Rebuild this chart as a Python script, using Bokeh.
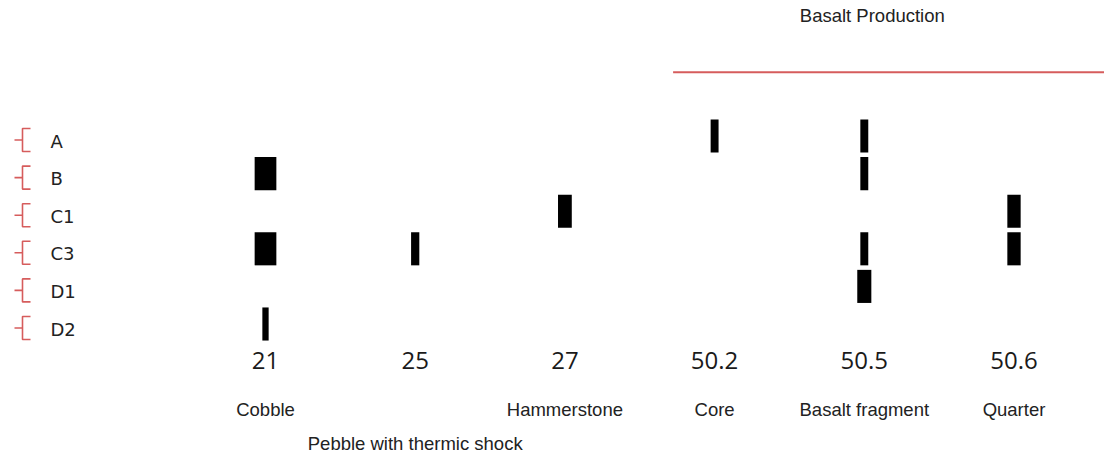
from bokeh.plotting import figure
from bokeh.models import ColumnDataSource, Range1d
from bokeh.core.properties import value
from bokeh.embed import file_html
from bokeh.resources import INLINE

# ---------------- data ----------------
rows = ["A", "B", "C1", "C3", "D1", "D2"]
codes = ["21", "25", "27", "50.2", "50.5", "50.6"]
names = ["Cobble", "Pebble with thermic shock", "Hammerstone", "Core",
         "Basalt fragment", "Quarter"]
group_label = "Basalt Production"
group_codes = ["50.2", "50.5", "50.6"]

bar_rows = ["A", "A", "B", "B", "C1", "C1", "C3", "C3", "C3", "C3", "D1", "D2"]
bar_codes = ["50.2", "50.5", "21", "50.5", "27", "50.6", "21", "25", "50.5", "50.6", "50.5", "21"]
bar_values = [5.3, 5.3, 14.5, 5.3, 9.2, 8.9, 14.5, 5.5, 5.3, 8.9, 9.4, 4.2]

# ---------------- layout ----------------
W, H = 1104, 458
COL_PX = 149.7          # pixels per column
ROW_PX = 37.6           # pixels per row
COL0_PX = 265           # first column centre (px)
ROW0_PX = 135.5         # first row centre (px)

def dx(px):
    return px / COL_PX

def dy(px):
    return px / ROW_PX

x_range = Range1d(-dx(COL0_PX), dx(W - COL0_PX))
y_range = Range1d(dy(H - ROW0_PX), -dy(ROW0_PX))   # rows run downwards
LEFT = x_range.start

p = figure(width=W, height=H, x_range=x_range, y_range=y_range,
           output_backend="svg", toolbar_location=None,
           x_axis_location=None, y_axis_location=None,
           min_border=0, outline_line_color=None,
           background_fill_color="white", border_fill_color="white")
p.grid.visible = False

RED = "#d65c5c"

# bars
src = ColumnDataSource(dict(
    x=[codes.index(c) for c in bar_codes],
    y=[rows.index(r) for r in bar_rows],
    w=[v / 100.0 for v in bar_values],
))
p.rect(x="x", y="y", width="w", height=0.88, source=src,
       fill_color="black", line_color=None)

# row labels with bracket markers
ry = list(range(len(rows)))
p.text(x=[LEFT + dx(50)] * len(rows), y=[i + dy(5) for i in ry], text=rows,
       text_font=value("DejaVu Sans"), text_font_size=value("18px"),
       text_color="#222222", text_align="left", text_baseline="alphabetic")

xs, ys = [], []
for i in ry:
    xv = LEFT + dx(22)
    xs.append([LEFT + dx(30), xv, xv, LEFT + dx(30)])
    ys.append([i + dy(-7.5), i + dy(-7.5), i + dy(15.5), i + dy(15.5)])
    xs.append([LEFT + dx(14), xv])
    ys.append([i + dy(4), i + dy(4)])
p.multi_line(xs=xs, ys=ys, line_color=RED, line_width=1.6)

# column code labels
cx = list(range(len(codes)))
p.text(x=cx, y=[dy(360 - ROW0_PX)] * len(codes), text=codes,
       text_font=value("Open Sans"), text_font_size=value("24px"),
       text_color="#1a1a1a", text_align="center", text_baseline="alphabetic")

# column names, staggered when wider than a column
name_y = []
for n in names:
    est_w = len(n) * 9.2
    name_y.append(dy(443 - ROW0_PX) if est_w > COL_PX else dy(409 - ROW0_PX))
p.text(x=cx, y=name_y, text=names,
       text_font=value("Liberation Sans"), text_font_size=value("18.5px"),
       text_color="#222222", text_align="center", text_baseline="alphabetic")

# group bracket line and label
g_idx = [codes.index(c) for c in group_codes]
line_y = dy(71.7 - ROW0_PX)
p.segment(x0=[min(g_idx) - dx(41.5)], y0=[line_y], x1=[x_range.end], y1=[line_y],
          line_color=RED, line_width=2)
p.text(x=[sum(g_idx) / len(g_idx) + dx(8)], y=[dy(14.5 - ROW0_PX)], text=[group_label],
       text_font=value("Liberation Sans"), text_font_size=value("18.5px"),
       text_color="#222222", text_align="center", text_baseline="alphabetic")

open("out.html", "w").write(file_html(p, INLINE))
